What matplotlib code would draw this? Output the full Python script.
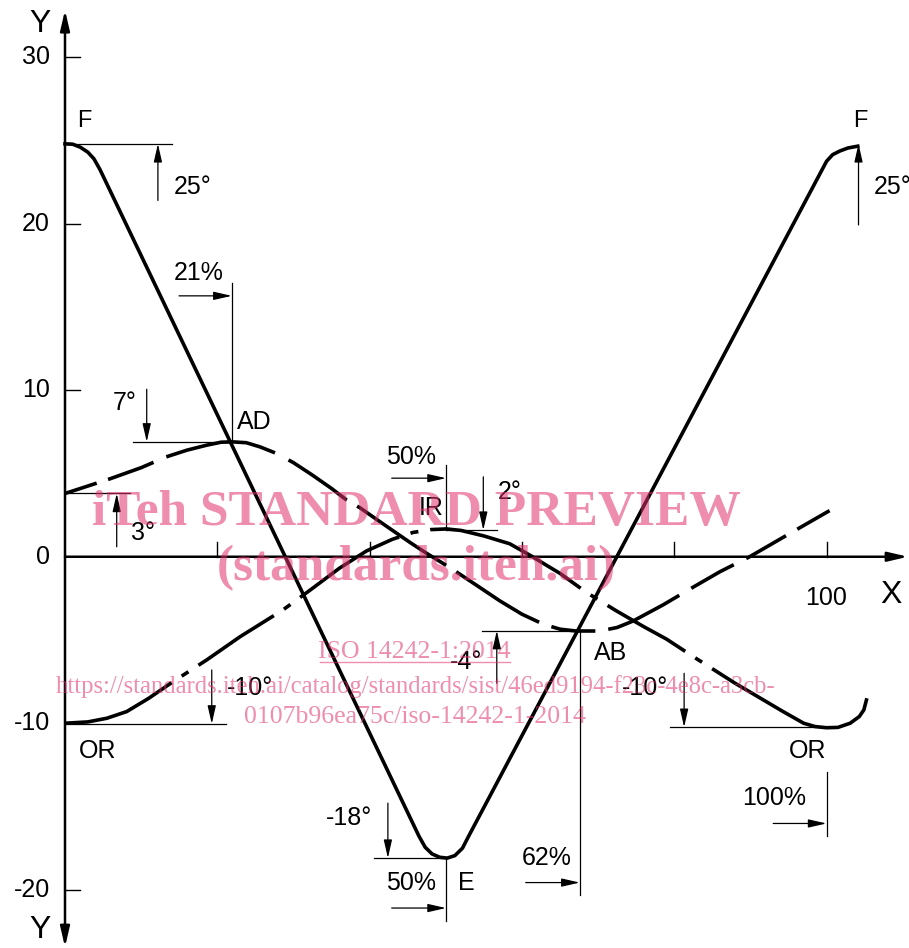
import matplotlib
matplotlib.use("Agg")
import matplotlib.pyplot as plt

plt.rcParams['font.family'] = ['Liberation Sans', 'DejaVu Sans']
plt.rcParams['lines.scale_dashes'] = False

# ---------------------------------------------------------------
# curve data (X in %, Y in degrees)
# ---------------------------------------------------------------
# F -> E -> F (solid)
fe_x = [0, 1.0, 2.0, 3.0, 3.8, 4.6, 46.5, 47.3, 48.2, 49.2, 50.2, 51.2,
        52.2, 53.1, 100.0, 100.8, 101.7, 102.8, 104.1]
fe_y = [24.8, 24.78, 24.6, 24.3, 23.9, 23.25, -16.8, -17.45, -17.85, -18.05,
        -18.1, -17.95, -17.5, -16.7, 23.75, 24.15, 24.36, 24.55, 24.66]

# AD -> AB (long dash)
ab_x = [0, 5.9, 10, 13.3, 16, 18.6, 20.5, 22, 23.8, 25.6, 27.8, 30, 32.5, 35,
        37, 38.7, 42, 45.3, 47.5, 50.5, 54, 57.1, 60, 62.8, 65, 67.1, 70.2,
        72.5, 74.6, 78.5, 82.4, 86, 89.9, 95, 100.4]
ab_y = [3.8, 4.68, 5.35, 6.0, 6.4, 6.7, 6.88, 6.9, 6.85, 6.6, 6.2, 5.65, 4.9,
        4.1, 3.4, 2.95, 1.9, 0.86, 0.2, -0.64, -1.7, -2.65, -3.45, -4.05,
        -4.35, -4.46, -4.46, -4.25, -3.86, -2.9, -1.85, -0.9, 0, 1.35, 2.77]

# OR -> IR -> OR (dash-dot)
or_x = [0, 3, 5.5, 8.1, 11, 14.2, 18.6, 23, 28.6, 32.2, 36, 39.6, 43, 45.7, 48,
        50.1, 52, 55, 58.4, 61.4, 63, 65, 68.5, 72.4, 76, 79, 82.5, 88, 94.3,
        97, 98.5, 100, 101.5, 103.1, 104.3, 104.9, 105.3]
or_y = [-10, -9.92, -9.7, -9.3, -8.5, -7.5, -6.2, -4.8, -3.2, -2.0, -0.7, 0.35,
        1.05, 1.46, 1.63, 1.67, 1.58, 1.25, 0.78, 0, -0.45, -1.0, -2.15, -3.25,
        -4.2, -4.95, -6.0, -7.6, -9.3, -10.0, -10.2, -10.27, -10.25, -10.0,
        -9.6, -9.2, -8.5]

# axis ticks
y_ticks = [30, 20, 10, 0, -10, -20]
x_ticks = [20, 40, 60, 80, 100]

# dimension lines: horizontal (y, x0, x1), vertical (x, y0, y1)
h_lines = [(24.8, 0, 14.1), (6.9, 8.97, 21.9), (3.8, 0, 8.54), (1.6, 50.03, 56.7),
           (-4.44, 54.7, 67.6), (-18.1, 40.57, 50.03), (-10.04, 0, 21.1),
           (-10.24, 79.45, 100)]
v_lines = [(21.9, 16.46, 6.9), (50.03, 5.5, 1.6), (67.6, -4.44, -20.3),
           (50.03, -18.1, -21.9), (100, -12.9, -16.8)]
# arrows: (tail x, tail y, tip x, tip y)
arrows = [(12.2, 21.4, 12.2, 24.8), (104.2, 19.93, 104.2, 24.8),
          (14.97, 15.67, 21.9, 15.67), (10.73, 10.06, 10.73, 6.9),
          (6.79, 0.6, 6.79, 3.8), (42.9, 4.72, 50.03, 4.72),
          (54.93, 4.8, 54.93, 1.6), (56.7, -7.6, 56.7, -4.44),
          (60.5, -19.57, 67.6, -19.57), (42.4, -14.8, 42.4, -18.1),
          (42.9, -21.1, 50.03, -21.1), (19.27, -6.8, 19.27, -10.04),
          (81.3, -7.0, 81.3, -10.24), (93.0, -16.02, 100, -16.02)]

labels = [('F', 2.5, 26.2, 17), ('F', 104.4, 26.2, 17),
          ('25°', 16.7, 22.2, 18), ('25°', 108.7, 22.2, 18),
          ('21%', 17.6, 17.07, 18), ('7°', 7.9, 9.23, 18), ('AD', 24.8, 8.1, 18),
          ('3°', 10.24, 1.42, 18), ('50%', 45.5, 6.0, 18), ('2°', 58.4, 3.9, 18),
          ('IR', 48.1, 2.92, 18), ('-4°', 52.7, -6.3, 18), ('AB', 71.6, -5.78, 18),
          ('62%', 63.2, -18.1, 18), ('-18°', 37.3, -15.7, 18),
          ('50%', 45.5, -19.6, 18), ('E', 52.7, -19.6, 18),
          ('-10°', 24.3, -7.9, 18), ('OR', 4.27, -11.67, 18),
          ('-10°', 76.2, -7.9, 18), ('OR', 97.5, -11.67, 18),
          ('100%', 93.1, -14.5, 18)]

watermark = [('iTeh STANDARD PREVIEW', 46.2, 2.62, 37, 'bold'),
             ('(standards.iteh.ai)', 46.1, -0.68, 37, 'bold'),
             ('ISO 14242-1:2014', 45.9, -5.72, 18.5, 'normal'),
             ('https://standards.iteh.ai/catalog/standards/sist/46ed9194-f23c-4e8c-a3cb-',
              46.1, -7.77, 17.7, 'normal'),
             ('0107b96ea75c/iso-14242-1-2014', 45.9, -9.63, 18.5, 'normal')]

# ---------------------------------------------------------------
fig = plt.figure(figsize=(9.09, 9.48), dpi=100)
ax = fig.add_axes([0, 0, 1, 1])
ax.set_xlim(-8.536, 110.83)
ax.set_ylim(-23.5, 33.44)
ax.axis('off')

arr = dict(arrowstyle='-|>,head_length=1.1,head_width=0.25', color='black',
           lw=0.9, shrinkA=0, shrinkB=0, mutation_scale=10)

# axes with arrows
ax.annotate('', xy=(0, 32.83), xytext=(0, -23.44),
            arrowprops=dict(arr, arrowstyle='<|-|>,head_length=1.2,head_width=0.28', lw=1.8))
ax.annotate('', xy=(110.7, 0), xytext=(0, 0),
            arrowprops=dict(arr, arrowstyle='-|>,head_length=1.2,head_width=0.28', lw=1.8))
for t in y_ticks:
    if t != 0:
        ax.plot([0, 2.0], [t, t], color='black', lw=1.0)
    ax.text(-1.97, t, str(t), ha='right', va='center', fontsize=18)
for t in x_ticks:
    ax.plot([t, t], [0, 0.9], color='black', lw=1.0)
ax.text(100, -2.5, '100', ha='center', va='center', fontsize=18)
ax.text(108.4, -2.3, 'X', ha='center', va='center', fontsize=23)
ax.text(-3.28, 32.0, 'Y', ha='center', va='center', fontsize=23)
ax.text(-3.28, -22.4, 'Y', ha='center', va='center', fontsize=23)

# curves
ax.plot(fe_x, fe_y, color='black', lw=2.6, solid_joinstyle='round')
ax.plot(ab_x, ab_y, color='black', lw=2.6,
        linestyle=(0, [24, 8.6, 35, 10, 81, 11, 51, 8.6, 77, 8.6, 70, 9.4,
                       32, 9.4, 57, 10, 35, 10, 33, 9.4, 40, 10]))
ax.plot(or_x, or_y, color='black', lw=2.6,
        linestyle=(0, [84, 8.6, 5.8, 8.6, 65, 8.6, 5.8, 8.6, 84, 8.6, 5.8, 8.6,
                       119, 8.6, 5.8, 8.6, 65, 8.6, 5.8, 8.6, 300, 10]))

# dimension lines
for y, x0, x1 in h_lines:
    ax.plot([x0, x1], [y, y], color='black', lw=0.9)
for x, y0, y1 in v_lines:
    ax.plot([x, x], [y0, y1], color='black', lw=0.9)
for x0, y0, x1, y1 in arrows:
    ax.annotate('', xy=(x1, y1), xytext=(x0, y0), arrowprops=arr)

for txt, x, y, fs in labels:
    ax.text(x, y, txt, ha='center', va='center', fontsize=fs)

# watermark
for txt, x, y, fs, fw in watermark:
    ax.text(x, y, txt, ha='center', va='center', fontsize=fs, fontweight=fw,
            family='Liberation Serif', color='#e0306a', alpha=0.55, zorder=10)
ax.plot([33.5, 58.4], [-6.34, -6.34], color='#e0306a', alpha=0.55, lw=1.0, zorder=10)

fig.savefig('out.png', dpi=100)
